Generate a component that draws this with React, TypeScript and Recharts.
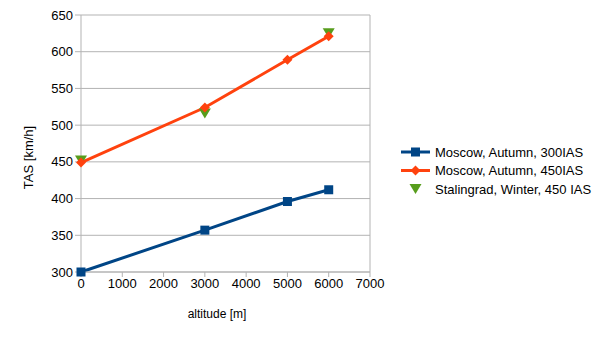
import React from 'react';
import { ComposedChart, Line, XAxis, YAxis, CartesianGrid, ReferenceLine, Legend, Label } from 'recharts';

const altitudes300 = [0, 3000, 5000, 6000];
const tas300 = [300, 357, 396, 412];
const altitudes450 = [0, 3000, 5000, 6000];
const tas450 = [449, 524, 589, 621];
const altitudesStal = [0, 3000, 6000];
const tasStal = [452, 516, 625];
const xTicks = [0, 1000, 2000, 3000, 4000, 5000, 6000, 7000];
const yTicks = [300, 350, 400, 450, 500, 550, 600, 650];
const seriesNames = ['Moscow, Autumn, 300IAS', 'Moscow, Autumn, 450IAS', 'Stalingrad, Winter, 450 IAS'];

const BLUE = '#004586';
const ORANGE = '#ff420e';
const GREEN = '#579d1c';
const GRID = '#b3b3b3';
const FONT = '"Liberation Sans", Arial, sans-serif';

const toRows = (xs: number[], ys: number[]) => xs.map((alt, i) => ({ alt, tas: ys[i] }));
const data300 = toRows(altitudes300, tas300);
const data450 = toRows(altitudes450, tas450);
const dataStal = toRows(altitudesStal, tasStal);

const Square = (props: any) => {
  const { cx, cy, fill } = props;
  if (cx == null || cy == null) return null;
  return <rect key={`s-${cx}`} x={cx - 4.5} y={cy - 4.5} width={9} height={9} fill={fill} />;
};
const Diamond = (props: any) => {
  const { cx, cy, fill } = props;
  if (cx == null || cy == null) return null;
  const r = 5;
  return <polygon key={`d-${cx}`} points={`${cx},${cy - r} ${cx + r},${cy} ${cx},${cy + r} ${cx - r},${cy}`} fill={fill} />;
};
const TriDown = (props: any) => {
  const { cx, cy, fill } = props;
  if (cx == null || cy == null) return null;
  return <polygon key={`t-${cx}`} points={`${cx - 6},${cy - 5} ${cx + 6},${cy - 5} ${cx},${cy + 5}`} fill={fill} />;
};

const LegendContent = () => {
  const rowH = 18.5;
  return (
    <svg width={207} height={60} style={{ display: 'block' }}>
      {seriesNames.map((name, i) => {
        const y = 10 + rowH * i;
        return (
          <g key={name}>
            {i < 2 && <line x1={3} x2={32} y1={y} y2={y} stroke={i === 0 ? BLUE : ORANGE} strokeWidth={3} />}
            {i === 0 && <Square cx={17.5} cy={y} fill={BLUE} />}
            {i === 1 && <Diamond cx={17.5} cy={y} fill={ORANGE} />}
            {i === 2 && <TriDown cx={17.5} cy={y} fill={GREEN} />}
            <text x={37} y={y} dominantBaseline="central" fontFamily={FONT} fontSize={13} fill="#000">{name}</text>
          </g>
        );
      })}
    </svg>
  );
};

export default function App() {
  return (
    <div style={{ position: 'absolute', left: 0, top: 0, width: 605, height: 340, background: '#fff' }}>
      <ComposedChart width={605} height={340} margin={{ top: 15, right: 235, bottom: 38, left: 0 }}>
        <CartesianGrid stroke={GRID} vertical={false} />
        <XAxis
          type="number"
          dataKey="alt"
          domain={[0, 7000]}
          ticks={xTicks}
          height={30}
          stroke={GRID}
          tick={{ fill: '#000', fontFamily: FONT, fontSize: 13 }}
          tickSize={5}
          allowDuplicatedCategory={false}
        >
          <Label
            content={({ viewBox }: any) => (
              <text x={viewBox.x + viewBox.width / 2 - 8.5} y={viewBox.y + 41.5} textAnchor="middle" dominantBaseline="central" fontFamily={FONT} fontSize={12} fill="#000">altitude [m]</text>
            )}
          />
        </XAxis>
        <YAxis
          type="number"
          dataKey="tas"
          domain={[300, 650]}
          ticks={yTicks}
          width={81}
          stroke={GRID}
          tick={{ fill: '#000', fontFamily: FONT, fontSize: 13 }}
          tickSize={6}
        >
          <Label
            content={({ viewBox }: any) => {
              const cx = viewBox.x + 28.5;
              const cy = viewBox.y + viewBox.height / 2 + 14;
              return (
                <text x={cx} y={cy} transform={`rotate(-90 ${cx} ${cy})`} textAnchor="middle" dominantBaseline="central" fontFamily={FONT} fontSize={13} fill="#000">TAS [km/h]</text>
              );
            }}
          />
        </YAxis>
        <ReferenceLine x={7000} stroke={GRID} />
        <Legend content={<LegendContent />} align="center" verticalAlign="middle" layout="vertical" wrapperStyle={{ left: 398, top: 142, width: 207 }} />
        <Line data={data300} dataKey="tas" name={seriesNames[0]} stroke={BLUE} strokeWidth={3} dot={<Square fill={BLUE} />} activeDot={false} isAnimationActive={false} />
        <Line data={dataStal} dataKey="tas" name={seriesNames[2]} stroke="none" dot={<TriDown fill={GREEN} />} activeDot={false} isAnimationActive={false} />
        <Line data={data450} dataKey="tas" name={seriesNames[1]} stroke={ORANGE} strokeWidth={3} dot={<Diamond fill={ORANGE} />} activeDot={false} isAnimationActive={false} />
      </ComposedChart>
    </div>
  );
}
